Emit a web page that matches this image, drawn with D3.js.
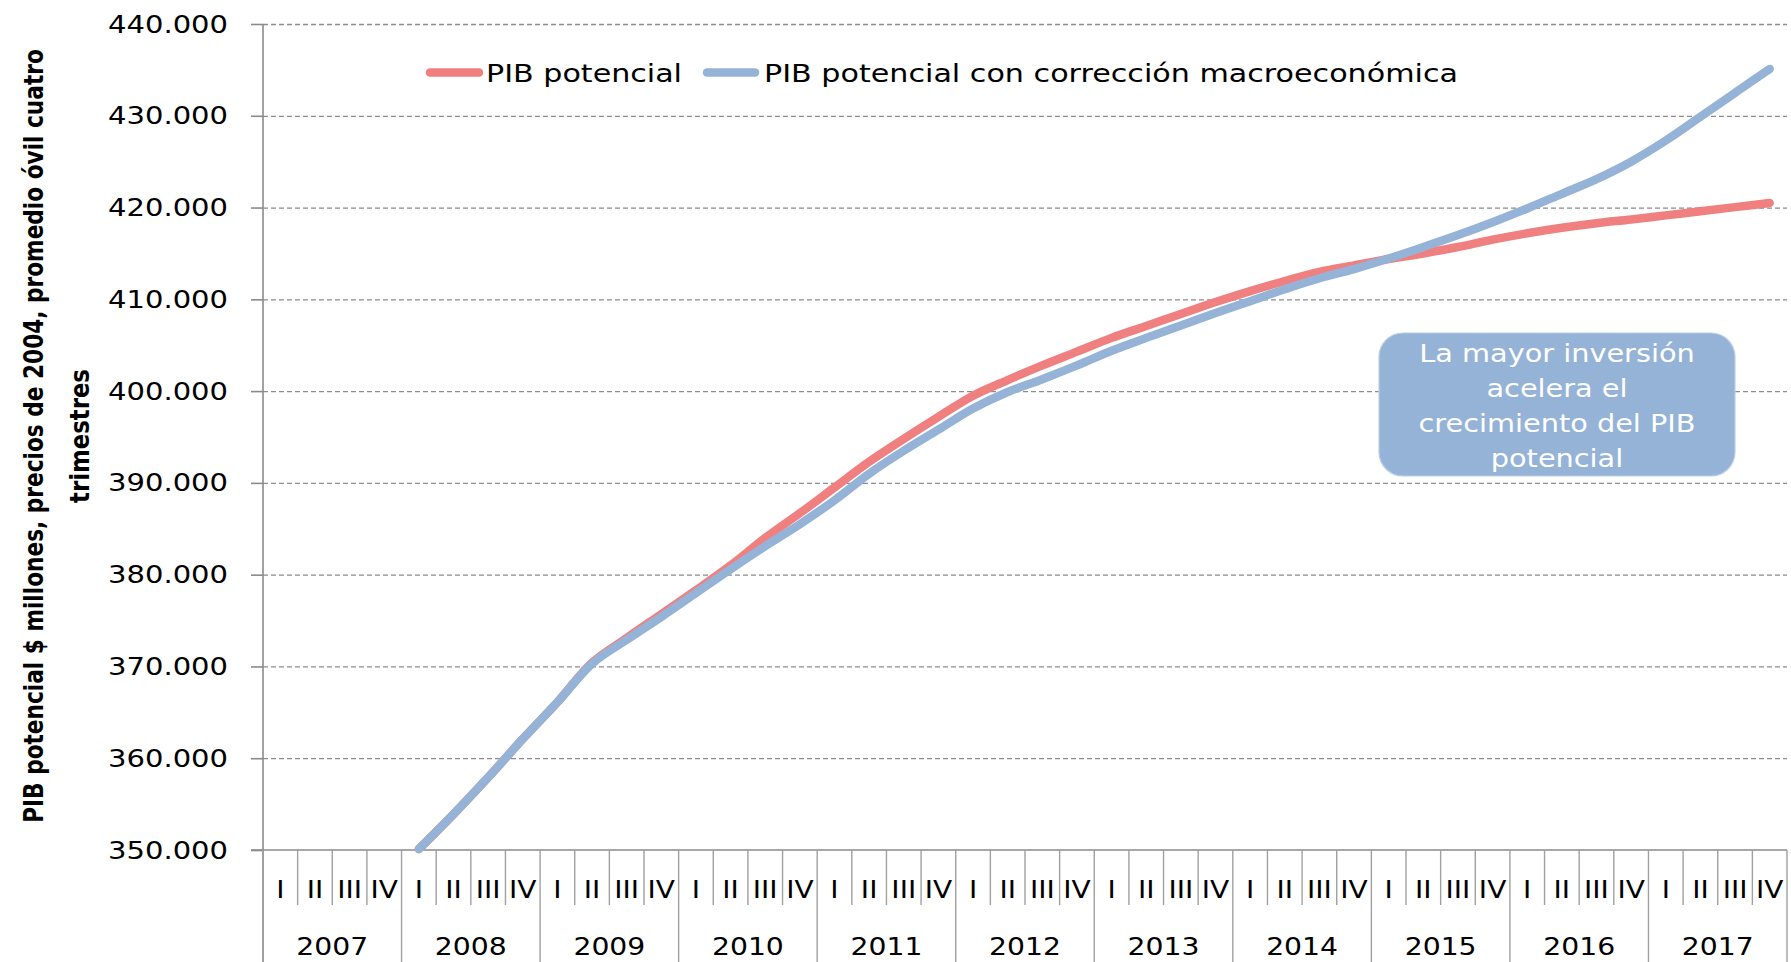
<!DOCTYPE html>
<html>
<head>
<meta charset="utf-8">
<script src="https://cdn.jsdelivr.net/npm/d3@7"></script>
<style>
  body { margin: 0; background: #fff; }
  svg { display: block; font-family: "DejaVu Sans", Verdana, sans-serif; }
</style>
</head>
<body>
<svg id="chart"></svg>
<script>
// ---- data (values in $ millones) ----
const years = ["2007", "2008", "2009", "2010", "2011", "2012", "2013", "2014", "2015", "2016", "2017"];
const quarterNames = ["I", "II", "III", "IV"];

const pibPotencial = [
  null, null, null, null,
  350100, 353900, 357900, 362100,
  366100, 370400, 373100, 375700,
  378300, 381000, 384000, 386700,
  389500, 392300, 394800, 397200,
  399500, 401200, 402800, 404300,
  405800, 407100, 408400, 409700,
  410900, 412000, 413000, 413700,
  414400, 415000, 415700, 416500,
  417200, 417800, 418300, 418700,
  419150, 419600, 420050, 420500
];

const pibCorregido = [
  null, null, null, null,
  350100, 353900, 357900, 362100,
  366100, 370300, 372900, 375400,
  378000, 380600, 383100, 385500,
  388100, 391000, 393500, 395800,
  398100, 399900, 401300, 402800,
  404400, 405800, 407150, 408500,
  409800, 411100, 412300, 413300,
  414450, 415700, 417000, 418400,
  419900, 421500, 423100, 425000,
  427300, 429900, 432500, 435100
];

const yTicks = [350000, 360000, 370000, 380000, 390000, 400000, 410000, 420000, 430000, 440000];
const seriesNames = ["PIB potencial", "PIB potencial con corrección macroeconómica"];
const seriesColors = ["#F08080", "#95B3D7"];
const yTitle = ["PIB potencial $ millones, precios de 2004, promedio óvil cuatro", "trimestres"];
const calloutLines = ["La mayor inversión", "acelera el", "crecimiento del PIB", "potencial"];

// ---- layout ----
const width = 1791;
const height = 962;
const plot = { left: 263, right: 1787, top: 24, bottom: 850 };

const svg = d3.select("#chart")
    .attr("width", width)
    .attr("height", height);

svg.append("rect").attr("width", width).attr("height", height).attr("fill", "#fff");

// stretch text horizontally so it matches the wider reference glyphs
function stretch(sel, k) {
  sel.each(function() {
    const w = this.getComputedTextLength();
    d3.select(this).attr("textLength", w * k).attr("lengthAdjust", "spacingAndGlyphs");
  });
}

const quarterKeys = years.flatMap(y => quarterNames.map(q => y + "-" + q));

const x = d3.scaleBand().domain(quarterKeys).range([plot.left, plot.right]).padding(0);
const xYear = d3.scaleBand().domain(years).range([plot.left, plot.right]).padding(0);
const y = d3.scaleLinear().domain([350000, 440000]).range([plot.bottom, plot.top]);

const locale = d3.formatLocale({ decimal: ",", thousands: ".", grouping: [3], currency: ["$", ""] });
const fmt = locale.format(",.0f");

// ---- gridlines ----
svg.append("g")
    .attr("transform", `translate(${plot.left},0)`)
    .call(d3.axisLeft(y).tickValues(yTicks.slice(1)).tickSize(-(plot.right - plot.left)).tickFormat(""))
    .call(g => g.select(".domain").remove())
    .call(g => g.selectAll("line")
        .attr("stroke", "#8c8c8c")
        .attr("stroke-width", 1.3)
        .attr("stroke-dasharray", "5,3"));

// ---- y axis ----
const yAxis = svg.append("g")
    .attr("transform", `translate(${plot.left},0)`)
    .call(d3.axisLeft(y).tickValues(yTicks).tickSize(12).tickPadding(23).tickFormat(fmt));

yAxis.select(".domain").attr("stroke", "#8a8a8a").attr("stroke-width", 1.6).attr("d", `M0,${plot.top}V${height}`);
yAxis.selectAll(".tick line").attr("stroke", "#8a8a8a").attr("stroke-width", 1.6);
yAxis.selectAll(".tick text")
    .attr("fill", "#000")
    .style("font-size", "25px")
    .style("font-family", "'DejaVu Sans', Verdana, sans-serif")
    .call(stretch, 1.16);

// ---- x axis (quarters + years) ----
const xAxis = svg.append("g");

xAxis.append("line")
    .attr("x1", plot.left - 12).attr("x2", plot.right)
    .attr("y1", plot.bottom).attr("y2", plot.bottom)
    .attr("stroke", "#8a8a8a").attr("stroke-width", 1.6);

// quarter separators (short)
xAxis.selectAll(".qsep")
    .data(quarterKeys.filter((k, i) => i % 4 !== 0))
    .enter()
    .append("line")
    .attr("x1", d => x(d)).attr("x2", d => x(d))
    .attr("y1", plot.bottom).attr("y2", 905)
    .attr("stroke", "#a0a0a0").attr("stroke-width", 1.4);

// year separators (long)
xAxis.selectAll(".ysep")
    .data(years.concat(["end"]))
    .enter()
    .append("line")
    .attr("x1", d => d === "end" ? plot.right : xYear(d))
    .attr("x2", d => d === "end" ? plot.right : xYear(d))
    .attr("y1", plot.bottom).attr("y2", height)
    .attr("stroke", "#a0a0a0").attr("stroke-width", 1.4);

xAxis.selectAll(".qlabel")
    .data(quarterKeys)
    .enter()
    .append("text")
    .attr("x", d => x(d) + x.bandwidth() / 2)
    .attr("y", 898)
    .attr("text-anchor", "middle")
    .style("font-size", "25px")
    .text(d => d.split("-")[1])
    .call(stretch, 1.12);

xAxis.selectAll(".ylabel")
    .data(years)
    .enter()
    .append("text")
    .attr("x", d => xYear(d) + xYear.bandwidth() / 2)
    .attr("y", 955)
    .attr("text-anchor", "middle")
    .style("font-size", "25px")
    .text(d => d)
    .call(stretch, 1.13);

// ---- y title (squeezed along its length with a scale, not textLength) ----
const titleFont = "'Liberation Sans Narrow', 'DejaVu Sans Condensed', 'DejaVu Sans', sans-serif";
const cy = (plot.top + plot.bottom) / 2 - 1;
[[yTitle[0], 43, 774], [yTitle[1], 89, 134]].forEach(([txt, tx, len]) => {
  const t = svg.append("text")
      .attr("text-anchor", "middle")
      .style("font-family", titleFont)
      .style("font-weight", "bold")
      .style("font-size", "26px")
      .text(txt);
  const k = len / t.node().getComputedTextLength();
  t.attr("transform", `translate(${tx},${cy}) rotate(-90) scale(${k},1)`);
});

// ---- lines ----
const line = d3.line()
    .defined(d => d.v !== null)
    .x(d => x(d.k) + x.bandwidth() / 2)
    .y(d => y(d.v))
    .curve(d3.curveCatmullRom.alpha(0.5));

[pibPotencial, pibCorregido].forEach((vals, s) => {
  svg.append("path")
      .datum(vals.map((v, i) => ({ k: quarterKeys[i], v })))
      .attr("fill", "none")
      .attr("stroke", seriesColors[s])
      .attr("stroke-width", 8.5)
      .attr("stroke-linecap", "round")
      .attr("stroke-linejoin", "round")
      .attr("d", line);
});

// ---- legend ----
const legendItems = [
  { x1: 430, x2: 479, tx: 486, w: 196 },
  { x1: 707, x2: 755, tx: 764, w: 694 }
];
legendItems.forEach((it, i) => {
  svg.append("line")
      .attr("x1", it.x1).attr("x2", it.x2)
      .attr("y1", 72.5).attr("y2", 72.5)
      .attr("stroke", seriesColors[i])
      .attr("stroke-width", 8.5)
      .attr("stroke-linecap", "round");
  svg.append("text")
      .attr("x", it.tx)
      .attr("y", 82)
      .style("font-size", "25px")
      .attr("textLength", it.w)
      .attr("lengthAdjust", "spacingAndGlyphs")
      .text(seriesNames[i]);
});

// ---- callout ----
const callout = svg.append("g");
callout.append("rect")
    .attr("x", 1379).attr("y", 333)
    .attr("width", 356).attr("height", 143)
    .attr("rx", 24).attr("ry", 24)
    .attr("fill", "#95B3D7")
    .attr("stroke", "#B9CDE5")
    .attr("stroke-width", 1.2);

callout.selectAll("text")
    .data(calloutLines)
    .enter()
    .append("text")
    .attr("x", 1557)
    .attr("y", (d, i) => 362 + i * 35)
    .attr("text-anchor", "middle")
    .attr("fill", "#fff")
    .style("font-size", "25px")
    .text(d => d)
    .call(stretch, 1.15);
</script>
</body>
</html>
